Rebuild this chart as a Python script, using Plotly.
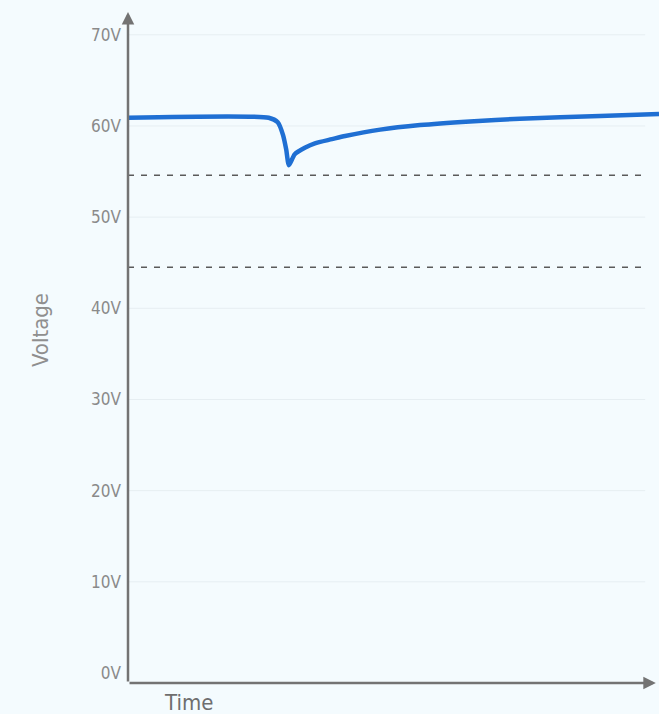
import plotly.graph_objects as go

# readings of the voltage trace (time in arbitrary units, 0..100 across the chart)
time_pts = [0, 26.5, 28.2, 29.2, 29.8, 30.3, 31.4, 33.3, 35.2, 38.4, 40.9,
            47.5, 55.0, 64.4, 73.8, 88.9, 100]
voltage_pts = [60.9, 60.9, 60.4, 59.0, 57.4, 55.7, 56.9, 57.6, 58.1, 58.55, 58.9,
               59.6, 60.1, 60.5, 60.8, 61.1, 61.3]

threshold_levels = [54.6, 44.5]
tick_vals = [0, 10, 20, 30, 40, 50, 60, 70]
tick_text = ["0V", "10V", "20V", "30V", "40V", "50V", "60V", "70V"]

X_END = 97.4
Y_MIN, Y_MAX = -1.1, 72.5
BG = "#f4fbfe"
AXIS = "#737373"
LABEL_FONT = "DejaVu Sans Condensed, Liberation Sans Narrow, sans-serif"

fig = go.Figure()
fig.add_trace(
    go.Scatter(
        x=time_pts,
        y=voltage_pts,
        mode="lines",
        line={"color": "#1f6fd3", "width": 4.5, "shape": "spline", "smoothing": 0.6},
        hoverinfo="skip",
    )
)

shapes = []
for v in tick_vals[1:]:
    shapes.append(
        {"type": "line", "xref": "x", "yref": "y", "x0": 0, "x1": X_END, "y0": v, "y1": v,
         "line": {"color": "#e6eef2", "width": 1}, "layer": "below"}
    )
for v in threshold_levels:
    shapes.append(
        {"type": "line", "xref": "x", "yref": "y", "x0": 0, "x1": X_END, "y0": v, "y1": v,
         "line": {"color": "#5a5a5a", "width": 1.6, "dash": "6px,7px"}}
    )

annotations = [
    # y axis with arrow
    {"x": 0, "y": Y_MAX, "ax": 0, "ay": Y_MIN, "xref": "x", "yref": "y", "axref": "x", "ayref": "y",
     "showarrow": True, "arrowhead": 2, "arrowsize": 1, "arrowwidth": 2.5, "arrowcolor": AXIS, "text": ""},
    # x axis with arrow
    {"x": 99.4, "y": Y_MIN, "ax": 0, "ay": Y_MIN, "xref": "x", "yref": "y", "axref": "x", "ayref": "y",
     "showarrow": True, "arrowhead": 2, "arrowsize": 1, "arrowwidth": 2.5, "arrowcolor": AXIS, "text": ""},
    {"x": 11.3, "y": 0, "xref": "x", "yref": "paper", "yanchor": "top", "yshift": -5,
     "text": "Time", "showarrow": False,
     "font": {"size": 22, "color": "#6e6e6e", "family": LABEL_FONT}},
    {"x": 0, "y": 0.526, "xref": "paper", "yref": "paper", "xanchor": "center", "yanchor": "middle",
     "xshift": -88, "textangle": -90, "text": "Voltage", "showarrow": False,
     "font": {"size": 22, "color": "#8f8f8f", "family": LABEL_FONT}},
]

fig.update_layout(
    width=659,
    height=714,
    margin={"l": 128, "r": 0, "t": 12, "b": 31},
    paper_bgcolor=BG,
    plot_bgcolor=BG,
    showlegend=False,
    hovermode=False,
    font={"family": LABEL_FONT, "color": "#888888"},
    shapes=shapes,
    annotations=annotations,
    xaxis={"range": [0, 100], "showgrid": False, "zeroline": False, "showticklabels": False,
           "showline": False, "fixedrange": True},
    yaxis={"range": [Y_MIN, Y_MAX], "tickvals": tick_vals, "ticktext": tick_text, "showgrid": False,
           "zeroline": False, "showline": False, "ticks": "", "ticklabelstandoff": 6,
           "tickfont": {"size": 17, "color": "#8a8a8a", "family": LABEL_FONT}},
)

fig.write_html(
    "out.html",
    config={"displayModeBar": False},
    post_script="document.body.style.margin='0px';document.body.style.background='%s';" % BG,
)
